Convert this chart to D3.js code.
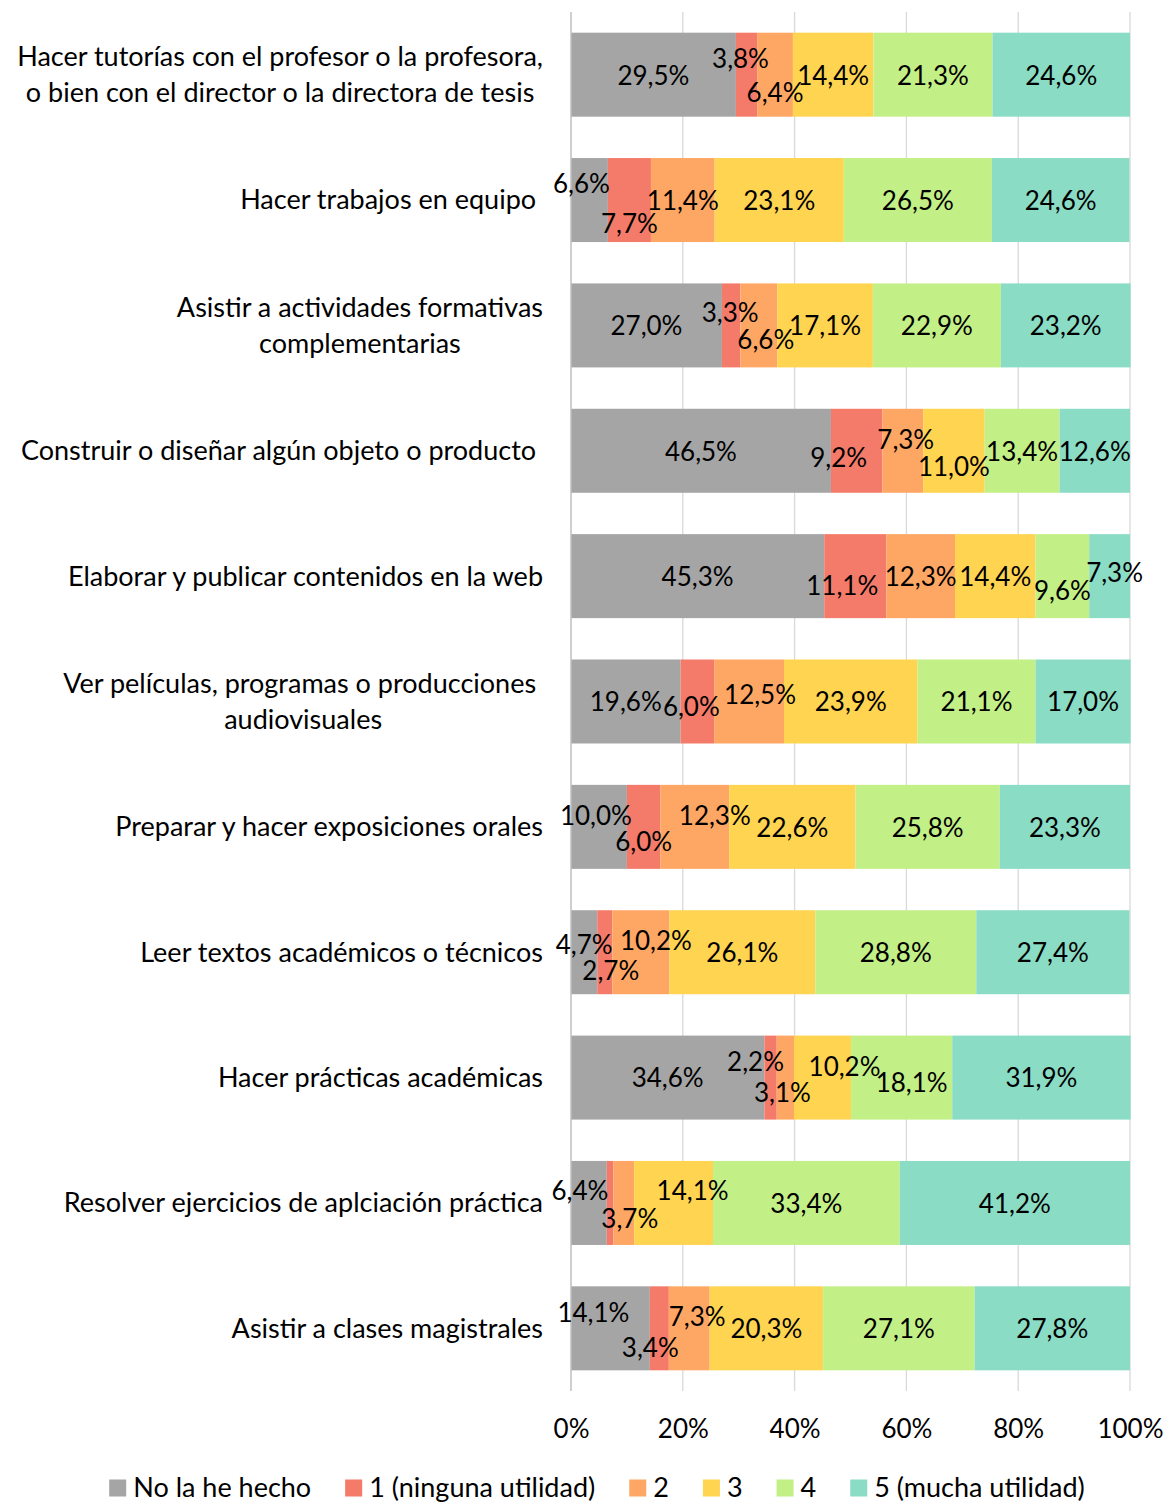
<!DOCTYPE html>
<html>
<head>
<meta charset="utf-8">
<script src="https://cdn.jsdelivr.net/npm/d3@7"></script>
<style>
  html, body { margin: 0; padding: 0; background: #fff; }
  svg { display: block; }
  text { font-family: Lato, "Open Sans", sans-serif; fill: #000; }
</style>
</head>
<body>
<svg id="chart" width="1164" height="1503"></svg>
<script>
// Activities (lines split with "\n"; a trailing space keeps the Excel-style right gap)
const categories = [
  "Hacer tutorías con el profesor o la profesora,\no bien con el director o la directora de tesis",
  "Hacer trabajos en equipo ",
  "Asistir a actividades formativas\ncomplementarias",
  "Construir o diseñar algún objeto o producto ",
  "Elaborar y publicar contenidos en la web",
  "Ver películas, programas o producciones \naudiovisuales",
  "Preparar y hacer exposiciones orales",
  "Leer textos académicos o técnicos",
  "Hacer prácticas académicas",
  "Resolver ejercicios de aplciación práctica",
  "Asistir a clases magistrales"
];

const seriesNames = ["No la he hecho", "1 (ninguna utilidad)", "2", "3", "4", "5 (mucha utilidad)"];

// Percentages per series, one value per activity (same order as categories)
const noHecho   = [29.5, 6.6, 27.0, 46.5, 45.3, 19.6, 10.0, 4.7, 34.6, 6.4, 14.1];
const util1     = [3.8, 7.7, 3.3, 9.2, 11.1, 6.0, 6.0, 2.7, 2.2, 1.2, 3.4];
const util2     = [6.4, 11.4, 6.6, 7.3, 12.3, 12.5, 12.3, 10.2, 3.1, 3.7, 7.3];
const util3     = [14.4, 23.1, 17.1, 11.0, 14.4, 23.9, 22.6, 26.1, 10.2, 14.1, 20.3];
const util4     = [21.3, 26.5, 22.9, 13.4, 9.6, 21.1, 25.8, 28.8, 18.1, 33.4, 27.1];
const util5     = [24.6, 24.6, 23.2, 12.6, 7.3, 17.0, 23.3, 27.4, 31.9, 41.2, 27.8];

// Which segments carry a printed value (the tiny "1" segment of row 10 has none)
const showLabel = [
  [1,1,1,1,1,1],[1,1,1,1,1,1],[1,1,1,1,1,1],[1,1,1,1,1,1],[1,1,1,1,1,1],[1,1,1,1,1,1],
  [1,1,1,1,1,1],[1,1,1,1,1,1],[1,1,1,1,1,1],[1,0,1,1,1,1],[1,1,1,1,1,1]
];

const tickValues = [0, 20, 40, 60, 80, 100];

const colors = ["#a5a5a5", "#f47b69", "#fea764", "#ffd450", "#c3ef87", "#8adcc5"];

// Hand-placed nudges for crowded value labels, [dx, dy] in px
const labelNudge = [
  [[0,0],[-6,-17],[0,17],[0,0],[0,0],[0,0]],
  [[-8,-17],[0,23],[0,0],[0,0],[0,0],[0,0]],
  [[0,0],[-1,-13],[7,14],[0,0],[0,0],[0,0]],
  [[0,0],[-18,6],[3,-12],[0,15],[0,0],[0,0]],
  [[0,0],[-13,9],[0,0],[0,0],[0,14],[5,-4]],
  [[0,0],[-6,5],[11,-7],[0,0],[0,0],[0,0]],
  [[-3,-12],[0,14],[20,-12],[0,0],[0,0],[0,0]],
  [[0,-8],[6,18],[15,-12],[0,0],[0,0],[0,0]],
  [[0,0],[-15,-16],[-3,15],[22,-11],[10,5],[0,0]],
  [[-9,-13],[0,0],[6,15],[19,-13],[0,0],[0,0]],
  [[-17,-16],[-9,19],[8,-12],[0,0],[0,0],[0,0]]
];

const seriesValues = [noHecho, util1, util2, util3, util4, util5];
const rows = categories.map((c, i) => {
  const o = { cat: c, idx: i };
  seriesNames.forEach((s, j) => { o[s] = seriesValues[j][i]; });
  return o;
});

const svg = d3.select("#chart");
const margin = { left: 571, right: 34, top: 12, bottom: 112 };
const W = 1164, H = 1503;

const x = d3.scaleLinear().domain([0, 100]).range([margin.left, W - margin.right]);
const y = d3.scaleBand().domain(d3.range(categories.length))
  .range([margin.top, H - margin.bottom]).paddingInner(0.33).paddingOuter(0.165);

const fmt = v => d3.format(".1f")(v).replace(".", ",") + "%";

// gridlines
svg.append("g").selectAll("line").data(tickValues.slice(1)).join("line")
  .attr("x1", d => x(d)).attr("x2", d => x(d))
  .attr("y1", margin.top).attr("y2", H - margin.bottom)
  .attr("stroke", "#d9d9d9").attr("stroke-width", 1.3);

const stack = d3.stack().keys(seriesNames);
const layers = stack(rows);

const gBars = svg.append("g");
layers.forEach((layer, j) => {
  gBars.append("g").attr("fill", colors[j]).selectAll("rect").data(layer).join("rect")
    .attr("x", d => x(d[0])).attr("width", d => x(d[1]) - x(d[0]))
    .attr("y", (d, i) => y(i)).attr("height", y.bandwidth());
});

// vertical axis line
svg.append("line").attr("x1", x(0)).attr("x2", x(0))
  .attr("y1", margin.top).attr("y2", H - margin.bottom)
  .attr("stroke", "#bfbfbf").attr("stroke-width", 1.5);

// value labels
const gLab = svg.append("g").attr("font-size", 26).attr("text-anchor", "middle");
layers.forEach((layer, j) => {
  layer.forEach((d, i) => {
    if (!showLabel[i][j]) return;
    const [dx, dy] = labelNudge[i][j];
    gLab.append("text")
      .attr("x", (x(d[0]) + x(d[1])) / 2 + dx)
      .attr("y", y(i) + y.bandwidth() / 2 + dy)
      .attr("dy", "0.38em")
      .text(fmt(seriesValues[j][i]));
  });
});

// category labels
const gCat = svg.append("g").attr("font-size", 27);
const labelRight = 543, lineH = 36;
categories.forEach((c, i) => {
  const lines = c.split("\n");
  const g = gCat.append("g");
  const cy = y(i) + y.bandwidth() / 2;
  const texts = lines.map((ln, k) => g.append("text")
    .style("white-space", "pre")
    .attr("y", cy + (k - (lines.length - 1) / 2) * lineH)
    .attr("dy", "0.35em")
    .text(ln));
  const widths = texts.map(t => t.node().getComputedTextLength());
  const maxW = d3.max(widths);
  const centre = labelRight - maxW / 2;
  texts.forEach((t, k) => t.attr("x", centre - widths[k] / 2));
});

// x axis tick labels
const xAxis = d3.axisBottom(x).tickValues(tickValues).tickSize(0).tickFormat(d => d + "%");
const gx = svg.append("g").attr("transform", `translate(0,${H - margin.bottom + 26})`).call(xAxis);
gx.select(".domain").remove();
gx.selectAll("text").attr("font-size", 26).attr("font-family", null).attr("fill", "#000").attr("dy", "0.71em");

// legend
const legend = svg.append("g").attr("font-size", 27);
const items = seriesNames.map((s, j) => {
  const g = legend.append("g");
  g.append("rect").attr("width", 17).attr("height", 17).attr("y", -8.5).attr("fill", colors[j]);
  const t = g.append("text").attr("x", 24).attr("dy", "0.35em").text(s);
  return { g, w: 24 + t.node().getComputedTextLength() };
});
const gap = 34;
const totalW = d3.sum(items, d => d.w) + gap * (items.length - 1);
let lx = 597 - totalW / 2;
items.forEach(it => { it.g.attr("transform", `translate(${lx},1488)`); lx += it.w + gap; });
</script>
</body>
</html>
